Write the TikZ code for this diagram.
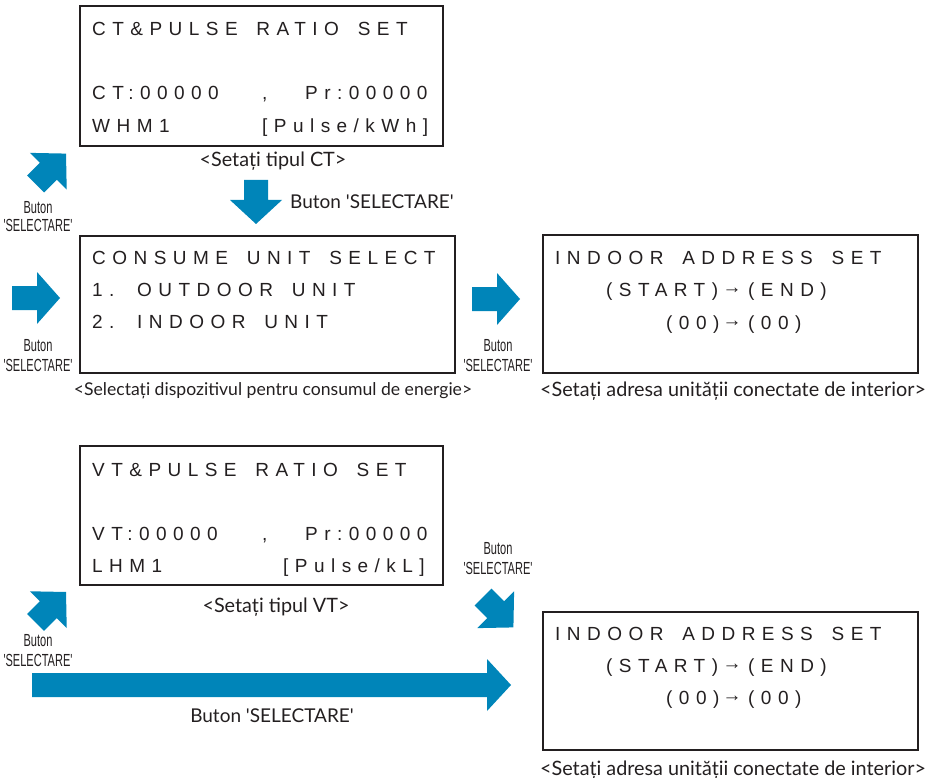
\documentclass[tikz,border=0pt]{standalone}
\usepackage{fontspec}
\setmainfont{Liberation Sans}
\newfontfamily\lcdfont[LetterSpace=34,WordSpace=1.6]{Liberation Sans}
\newfontfamily\capfont{Lato}
\newfontfamily\narrowfont[FakeStretch=0.63]{Liberation Sans}
\definecolor{arrowblue}{RGB}{0,133,185}
\definecolor{boxline}{RGB}{35,31,32}
\newcommand\fatarrow[4]{%
  \fill[arrowblue, shift={(#1)}, rotate=#2] (0,-12) -- (#3,-12) -- (#3,-26) -- ({#3+#4},0) -- (#3,26) -- (#3,12) -- (0,12) -- cycle;}
\tikzset{
  lcdbox/.style={draw=boxline, line width=2.8pt},
  lcd/.style={anchor=base west, inner sep=0pt, font=\lcdfont\fontsize{19}{19}\selectfont, text=boxline},
  lcdarrow/.style={anchor=base, inner sep=0pt, font=\fontsize{19}{19}\selectfont, text=boxline},
  capt/.style={anchor=base, inner sep=0pt, font=\capfont\fontsize{19.8}{19.8}\selectfont, text=boxline},
  smalllbl/.style={anchor=base, inner sep=0pt, font=\narrowfont\fontsize{17.5}{17.5}\selectfont, text=boxline},
}
\begin{document}
\begin{tikzpicture}[x=1pt,y=-1pt]
\useasboundingbox (0,0) rectangle (937,778);
% boxes
\draw[lcdbox] (80,6) rectangle (443,146);
\draw[lcdbox] (80,236) rectangle (455,373);
\draw[lcdbox] (543,235) rectangle (918,373);
\draw[lcdbox] (80,446) rectangle (443,585);
\draw[lcdbox] (543,612) rectangle (918,750);
% box 1
\node[lcd] (b1r1) at (92,36) {CT\&PULSE RATIO SET};
\node[lcd] (b1r2a) at (92,100) {CT:00000};
\node[lcd] (b1r2b) at (262,100) {,};
\node[lcd] (b1r2c) at (305,100) {Pr:00000};
\node[lcd] (b1r3a) at (92,133) {WHM1};
\node[lcd] (b1r3b) at (262,133) {[Pulse/kWh]};
\node[capt] (c1) at (273,167) {<Setați tipul CT>};
% box 2
\node[lcd] (b2r1) at (92,264) {CONSUME UNIT SELECT};
\node[lcd] (b2r2) at (92,296) {1. OUTDOOR UNIT};
\node[lcd] (b2r3) at (92,328) {2. INDOOR UNIT};
\node[capt, font=\capfont\fontsize{17.6}{17.6}\selectfont] (c2) at (273,395) {<Selectați dispozitivul pentru consumul de energie>};
% box 3
\node[lcd] (b3r1) at (555,264) {INDOOR ADDRESS SET};
\node[lcd] (b3r2a) at (606,296) {(START)};
\node[lcdarrow] (b3r2b) at (732,293.5) {→};
\node[lcd] (b3r2c) at (748,296) {(END)};
\node[lcd] (b3r3a) at (666,329) {(00)};
\node[lcdarrow] (b3r3b) at (732,326.5) {→};
\node[lcd] (b3r3c) at (748,329) {(00)};
\node[capt] (c3) at (733,396) {<Setați adresa unității conectate de interior>};
% box 4
\node[lcd] (b4r1) at (92,476) {VT\&PULSE RATIO SET};
\node[lcd] (b4r2a) at (92,540) {VT:00000};
\node[lcd] (b4r2b) at (262,540) {,};
\node[lcd] (b4r2c) at (305,540) {Pr:00000};
\node[lcd] (b4r3a) at (92,572) {LHM1};
\node[lcd] (b4r3b) at (283,572) {[Pulse/kL]};
\node[capt] (c4) at (276,612) {<Setați tipul VT>};
% box 5
\node[lcd] (b5r1) at (555,640) {INDOOR ADDRESS SET};
\node[lcd] (b5r2a) at (606,672) {(START)};
\node[lcdarrow] (b5r2b) at (732,669.5) {→};
\node[lcd] (b5r2c) at (748,672) {(END)};
\node[lcd] (b5r3a) at (666,704) {(00)};
\node[lcdarrow] (b5r3b) at (732,701.5) {→};
\node[lcd] (b5r3c) at (748,704) {(00)};
\node[capt] (c5) at (733,775) {<Setați adresa unității conectate de interior>};
% arrows
\fatarrow{35.6,184}{45}{18}{25}
\fatarrow{256,180}{-90}{20}{24}
\fatarrow{12,298}{0}{25}{23}
\fatarrow{472,299}{0}{25}{23}
\fatarrow{35.6,622.4}{45}{18}{25}
\fatarrow{483,597}{-45}{18}{25}
\fatarrow{32,685}{0}{455}{24}
% arrow labels
\node[capt, anchor=base west, font=\capfont\fontsize{19}{19}\selectfont] (l2) at (290,209) {Buton 'SELECTARE'};
\node[capt, font=\capfont\fontsize{19}{19}\selectfont] (l7) at (272,722) {Buton 'SELECTARE'};
\node[smalllbl] (l1a) at (38,214) {Buton};
\node[smalllbl] (l1b) at (38,232) {'SELECTARE'};
\node[smalllbl] (l3a) at (38,351) {Buton};
\node[smalllbl] (l3b) at (38,371) {'SELECTARE'};
\node[smalllbl] (l4a) at (498,351) {Buton};
\node[smalllbl] (l4b) at (498,371) {'SELECTARE'};
\node[smalllbl] (l6a) at (498,554) {Buton};
\node[smalllbl] (l6b) at (498,574) {'SELECTARE'};
\node[smalllbl] (l5a) at (38,646) {Buton};
\node[smalllbl] (l5b) at (38,666) {'SELECTARE'};
\end{tikzpicture}
\end{document}
